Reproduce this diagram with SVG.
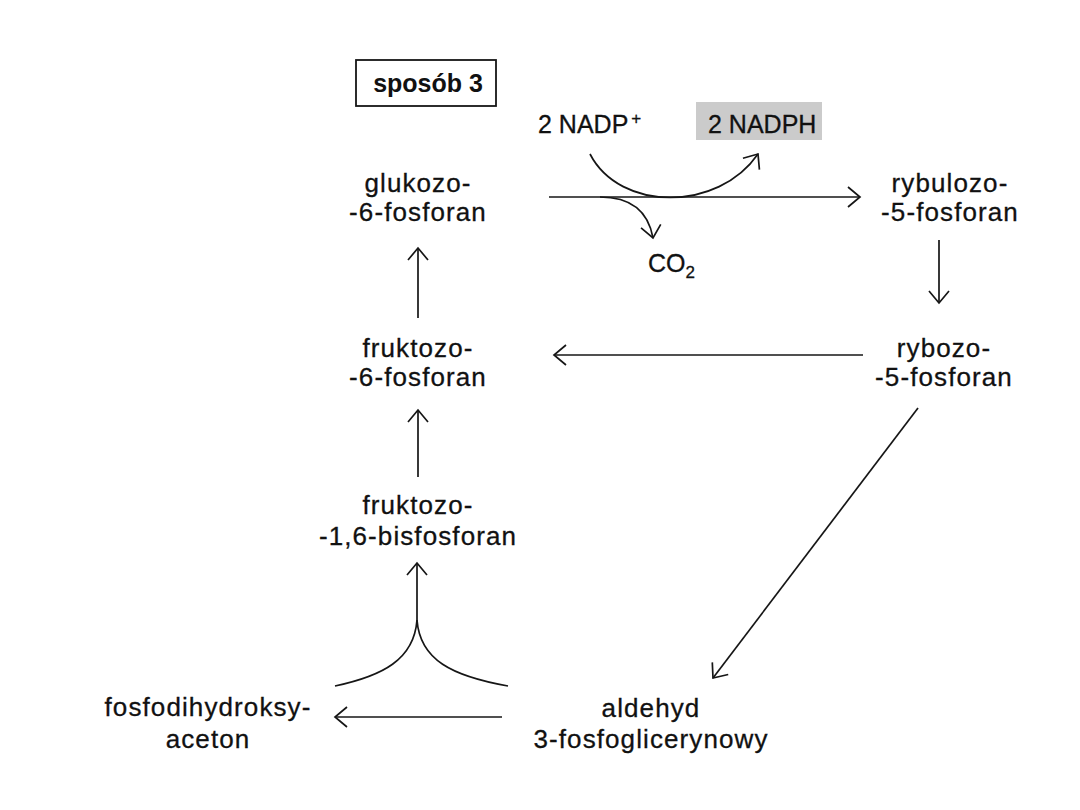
<svg xmlns="http://www.w3.org/2000/svg" width="1080" height="810" viewBox="0 0 1080 810">
<style>
.n{font-family:"Liberation Sans",Arial,Helvetica,sans-serif;font-size:26px;fill:#111;stroke:#111;stroke-width:0.3;letter-spacing:1.1px;text-anchor:middle}
.l{font-family:"Liberation Sans",Arial,Helvetica,sans-serif;font-size:25px;fill:#111;stroke:#111;stroke-width:0.3}
.b{font-family:"Liberation Sans",Arial,Helvetica,sans-serif;font-size:25px;font-weight:bold;fill:#111;text-anchor:middle}
.c{fill:none;stroke:#161616;stroke-width:1.7}
</style>
<defs>
<marker id="ah" markerUnits="userSpaceOnUse" viewBox="0 0 14 22" refX="13" refY="11" markerWidth="14" markerHeight="22" orient="auto" overflow="visible">
<path d="M1,1 L13,11 L1,21" fill="none" stroke="#161616" stroke-width="1.7" stroke-linejoin="miter"/>
</marker>
</defs>
<rect width="1080" height="810" fill="#ffffff"/>

<g id="label-sposob">
<rect x="356" y="60" width="140" height="46" fill="#ffffff" stroke="#161616" stroke-width="1.8"/>
<text class="b" x="428" y="92">sposób 3</text>
</g>

<g id="cofactors">
<text class="l" x="538" y="133">2 NADP<tspan font-size="17" dy="-9" dx="3">+</tspan></text>
<rect x="696" y="102" width="126" height="38" fill="#cbcbcb"/>
<text class="l" x="708" y="133">2 NADPH</text>
<text class="l" x="648" y="272">CO<tspan font-size="17" dy="6">2</tspan></text>
</g>

<g id="glukozo-6-fosforan">
<text class="n" x="418" y="192">glukozo-</text>
<text class="n" x="418" y="221">-6-fosforan</text>
</g>
<g id="rybulozo-5-fosforan">
<text class="n" x="950" y="192">rybulozo-</text>
<text class="n" x="950" y="221">-5-fosforan</text>
</g>
<g id="fruktozo-6-fosforan">
<text class="n" x="418" y="357">fruktozo-</text>
<text class="n" x="418" y="386">-6-fosforan</text>
</g>
<g id="rybozo-5-fosforan">
<text class="n" x="944" y="357">rybozo-</text>
<text class="n" x="944" y="386">-5-fosforan</text>
</g>
<g id="fruktozo-1-6-bisfosforan">
<text class="n" x="418" y="514">fruktozo-</text>
<text class="n" x="418" y="545">-1,6-bisfosforan</text>
</g>
<g id="fosfodihydroksyaceton">
<text class="n" x="208" y="716">fosfodihydroksy-</text>
<text class="n" x="208" y="748">aceton</text>
</g>
<g id="aldehyd-3-fosfoglicerynowy">
<text class="n" x="651" y="717">aldehyd</text>
<text class="n" x="651" y="748">3-fosfoglicerynowy</text>
</g>

<g id="connectors">
<line class="c" x1="549" y1="197" x2="860" y2="197" marker-end="url(#ah)"/>
<path class="c" d="M590,154 C620,212 718,212 758,154" marker-end="url(#ah)"/>
<path class="c" d="M600,197 C630,197 648,210 653,238" marker-end="url(#ah)"/>
<line class="c" x1="939" y1="240" x2="939" y2="303" marker-end="url(#ah)"/>
<line class="c" x1="863" y1="355" x2="554" y2="355" marker-end="url(#ah)"/>
<line class="c" x1="418" y1="318" x2="418" y2="248" marker-end="url(#ah)"/>
<line class="c" x1="418" y1="477" x2="418" y2="410" marker-end="url(#ah)"/>
<line class="c" x1="918" y1="408" x2="713" y2="678" marker-end="url(#ah)"/>
<line class="c" x1="502" y1="717" x2="335" y2="717" marker-end="url(#ah)"/>
<path class="c" d="M335,686 C382,676 414,660 417,620 C420,660 452,676 508,686"/>
<line class="c" x1="417" y1="622" x2="417" y2="563" marker-end="url(#ah)"/>
</g>
</svg>
